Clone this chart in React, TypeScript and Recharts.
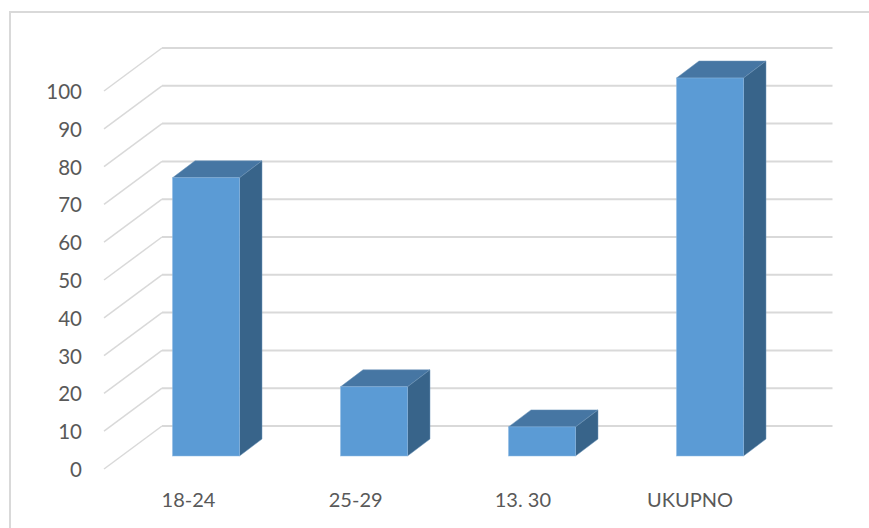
import React from "react";
import { BarChart, Bar, XAxis, YAxis, CartesianGrid } from "recharts";

const categories = ["18-24", "25-29", "13. 30", "UKUPNO"];
const values = [73.6, 18.3, 7.7, 100];
const yTicks = [0, 10, 20, 30, 40, 50, 60, 70, 80, 90, 100];
const data = categories.map((name, i) => ({ name, value: values[i] }));

const FONT = "Lato, 'Open Sans', sans-serif";
const TEXT = "#595959";
const GRID = "#d9d9d9";

const GridRow = (p: any) => {
  const y = p.y1;
  const left = p.x1;
  const right = p.x2;
  return (
    <g key={"row-" + y}>
      <line x1={left - 17.5} y1={y + 13} x2={left + 40.5} y2={y - 30} stroke={GRID} strokeWidth={1.5} />
      <line x1={left + 40.5} y1={y - 30} x2={right + 39} y2={y - 30} stroke={GRID} strokeWidth={2} />
    </g>
  );
};

const Box = (p: any) => {
  const { x, y, width, height } = p;
  const dx = 22.5;
  const dy = 17;
  const r = x + width;
  const b = y + height;
  return (
    <g>
      <polygon points={`${x},${y} ${x + dx},${y - dy} ${r + dx},${y - dy} ${r},${y}`} fill="#4676A3" stroke="#6d94b8" strokeWidth={0.5} />
      <polygon points={`${r},${y} ${r + dx},${y - dy} ${r + dx},${b - dy} ${r},${b}`} fill="#38648A" stroke="#6d94b8" strokeWidth={0.5} />
      <rect x={x} y={y} width={width} height={height} fill="#5B9BD5" stroke="#8dbae3" strokeWidth={0.5} />
    </g>
  );
};

const YTick = (p: any) => (
  <text x={82} y={p.y + 13} textAnchor="end" dominantBaseline="central" fontFamily={FONT} fontSize={20.5} fill={TEXT}>
    {p.payload.value}
  </text>
);

const XTick = (p: any) => (
  <text
    x={p.x - 17 - (p.index ?? 0) * 0.8}
    y={499}
    textAnchor="middle"
    dominantBaseline="central"
    fontFamily={FONT}
    fontSize={20}
    fill={TEXT}
  >
    {p.payload.value}
  </text>
);

export default function App() {
  return (
    <div style={{ position: "absolute", left: 0, top: 0, width: 869, height: 528, overflow: "hidden", background: "#fff" }}>
      <div
        style={{
          position: "absolute",
          left: 9,
          top: 11,
          width: 860,
          height: 517,
          borderTop: `2px solid ${GRID}`,
          borderLeft: `2px solid ${GRID}`,
          boxSizing: "border-box",
        }}
      />
      <div style={{ position: "absolute", left: 0, top: 0 }}>
        <BarChart width={869} height={528} data={data} margin={{ top: 78, right: 75.5, bottom: 0, left: 0 }} barSize={67}>
          <CartesianGrid vertical={false} horizontal={GridRow as any} />
          <XAxis dataKey="name" height={72} axisLine={false} tickLine={false} tick={XTick as any} interval={0} />
          <YAxis width={121.5} domain={[0, 100]} ticks={yTicks} axisLine={false} tickLine={false} tick={YTick as any} interval={0} />
          <Bar dataKey="value" shape={Box as any} isAnimationActive={false} />
        </BarChart>
      </div>
    </div>
  );
}
